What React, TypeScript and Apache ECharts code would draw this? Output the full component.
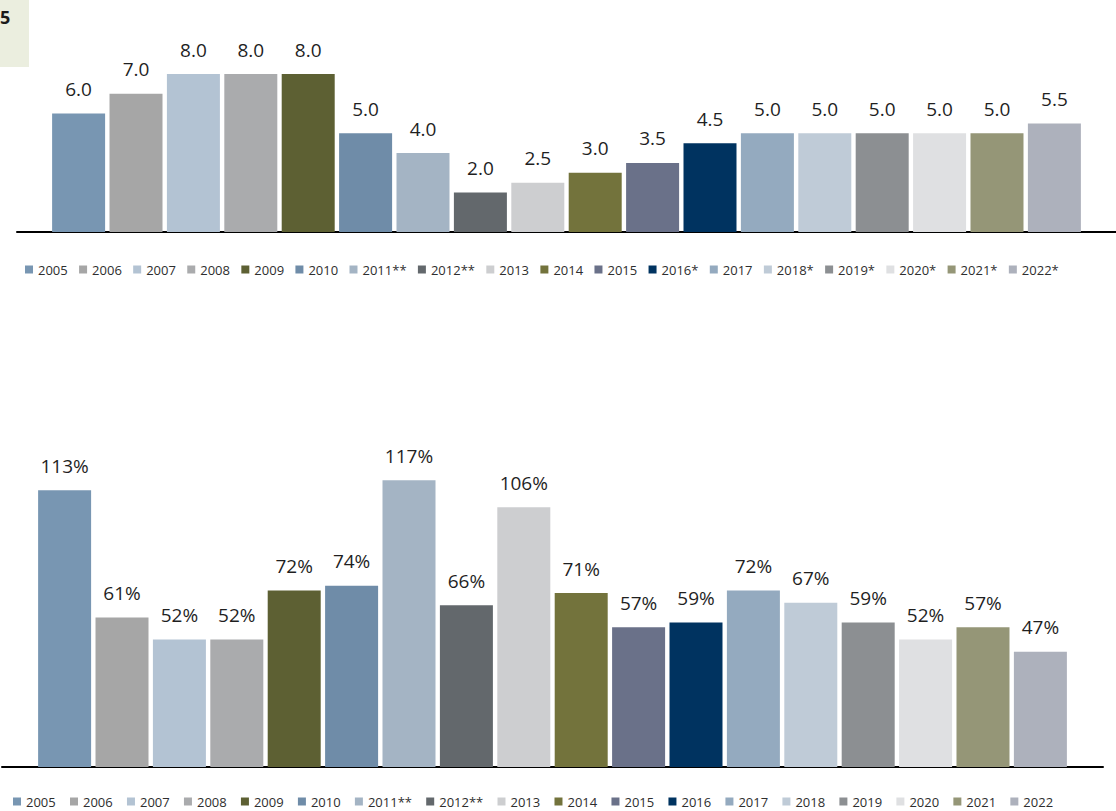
import React, { useEffect, useRef } from "react";
import * as echarts from "echarts";

// Years shown in each panel (legend names)
const topYears = ["2005", "2006", "2007", "2008", "2009", "2010", "2011**", "2012**", "2013", "2014", "2015", "2016*", "2017", "2018*", "2019*", "2020*", "2021*", "2022*"];
const bottomYears = ["2005", "2006", "2007", "2008", "2009", "2010", "2011**", "2012**", "2013", "2014", "2015", "2016", "2017", "2018", "2019", "2020", "2021", "2022"];

// Values per year
const topValues = [6.0, 7.0, 8.0, 8.0, 8.0, 5.0, 4.0, 2.0, 2.5, 3.0, 3.5, 4.5, 5.0, 5.0, 5.0, 5.0, 5.0, 5.5];
const bottomValues = [113, 61, 52, 52, 72, 74, 117, 66, 106, 71, 57, 59, 72, 67, 59, 52, 57, 47];

// One colour per year
const yearColors = ["#7896B2", "#A6A6A6", "#B3C3D3", "#AAABAD", "#5D6033", "#6F8CA8", "#A4B4C4", "#63686C", "#CDCED0", "#73733C", "#6A7189", "#003360", "#94AABF", "#BFCBD7", "#8C8F92", "#DFE0E2", "#959677", "#ADB1BC"];

const FONT = "'Open Sans', 'Noto Sans', sans-serif";

export default function App() {
  const ref = useRef<HTMLDivElement | null>(null);

  useEffect(() => {
    if (!ref.current) return;
    const chart = echarts.init(ref.current, undefined, { renderer: "svg" });

    const labelStyle = {
      show: true,
      position: "top" as const,
      distance: 15,
      fontFamily: FONT,
      fontSize: 19,
      color: "#1f1f1f",
    };

    const topSeries = topYears.map((name, i) => ({
      type: "bar",
      name,
      xAxisIndex: 0,
      yAxisIndex: 0,
      barWidth: 53,
      barGap: "8.3%",
      itemStyle: { color: yearColors[i] },
      label: { ...labelStyle, formatter: (p: any) => Number(p.value).toFixed(1) },
      data: [topValues[i]],
    }));

    const bottomSeries = bottomYears.map((name, i) => ({
      type: "bar",
      name,
      xAxisIndex: 1,
      yAxisIndex: 1,
      barWidth: 53,
      barGap: "8.3%",
      itemStyle: { color: yearColors[i] },
      label: { ...labelStyle, formatter: (p: any) => `${p.value}%` },
      data: [bottomValues[i]],
    }));

    const legendBase = {
      orient: "horizontal" as const,
      icon: "rect",
      itemWidth: 8,
      itemHeight: 8,
      padding: 0,
      selectedMode: false,
      textStyle: { fontFamily: FONT, fontSize: 13, color: "#2e2e2e" },
    };

    const axisX = (gridIndex: number) => ({
      type: "category" as const,
      gridIndex,
      data: [""],
      axisTick: { show: false },
      axisLabel: { show: false },
      axisLine: { show: true, lineStyle: { color: "#000000", width: 2 } },
    });

    chart.setOption({
      animation: false,
      backgroundColor: "#ffffff",
      grid: [
        { left: 17, width: 1099, top: 34.5, height: 197.5 },
        { left: 2, width: 1101, top: 448.5, height: 318.5 },
      ],
      xAxis: [axisX(0), axisX(1)],
      yAxis: [
        { type: "value", gridIndex: 0, min: 0, max: 10, show: false, splitLine: { show: false } },
        { type: "value", gridIndex: 1, min: 0, max: 130, show: false, splitLine: { show: false } },
      ],
      legend: [
        { ...legendBase, data: topYears, left: 25, top: 263, itemGap: 11.35 },
        { ...legendBase, data: bottomYears, left: 13, top: 795, itemGap: 14.25 },
      ],
      graphic: [
        {
          type: "rect",
          left: 0,
          top: 0,
          shape: { width: 29, height: 67 },
          style: { fill: "#EBEEDF" },
          z: 10,
        },
        {
          type: "text",
          x: 0,
          y: 8,
          style: {
            text: "5",
            fontFamily: FONT,
            fontSize: 18,
            fontWeight: "bold",
            fill: "#1a1a1a",
          },
          z: 11,
        },
      ],
      series: [...topSeries, ...bottomSeries],
    });

    return () => chart.dispose();
  }, []);

  return (
    <div
      ref={ref}
      style={{ position: "fixed", left: 0, top: 0, width: 1116, height: 811, background: "#ffffff" }}
    />
  );
}
